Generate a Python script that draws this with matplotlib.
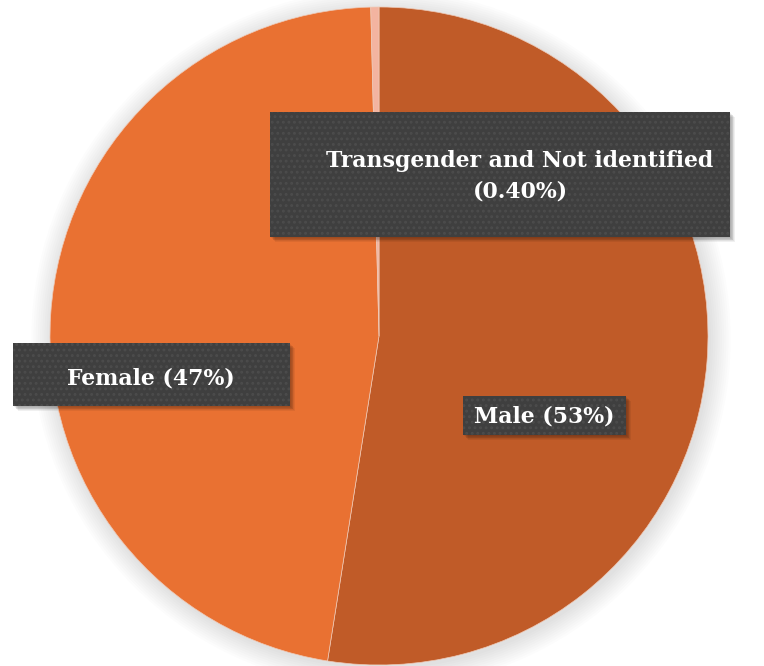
import numpy as np
import matplotlib
matplotlib.use("Agg")
import matplotlib.pyplot as plt
from matplotlib.patches import Rectangle, Circle

# data
labels = ["Male", "Female", "Transgender and Not identified"]
shares = [52.5, 47.1, 0.4]
label_texts = ["Male (53%)", "Female (47%)", "Transgender and Not identified\n(0.40%)"]
colors = ["#C05B28", "#E97132", "#F3B4A0"]

W, H = 764, 666
fig = plt.figure(figsize=(W / 100, H / 100), dpi=100)
ax = fig.add_axes([0, 0, 1, 1])

cx, cy, r = 379, 330, 329

# soft glow behind the pie
for k in range(10):
    ax.add_patch(Circle((cx + 2, cy - 3), r + 1 + k * 2.2, color="#000000",
                        alpha=0.012, lw=0, zorder=0))

ax.pie(shares, colors=colors, startangle=90, counterclock=False,
       center=(cx, cy), radius=r, frame=True,
       wedgeprops=dict(linewidth=0.5, edgecolor="#EFC9B6"))
ax.set_xlim(0, W)
ax.set_ylim(0, H)
ax.set_aspect("equal")
ax.axis("off")

plt.rcParams["hatch.linewidth"] = 1.3
# label boxes: (x0, y0, x1, y1) and text centre
boxes = {
    "Male": ((463, 231, 626, 270), (544, 250)),
    "Female": ((13, 260, 290, 323), (151, 288)),
    "Transgender and Not identified": ((270, 429, 730, 554), (520, 490)),
}
for lab, txt in zip(labels, label_texts):
    (x0, y0, x1, y1), (tx, ty) = boxes[lab]
    for k in range(6):
        ax.add_patch(Rectangle((x0 + 1 + k * 0.8, y0 - 1 - k * 0.8), x1 - x0, y1 - y0,
                               color="black", alpha=0.06, lw=0, zorder=3))
    ax.add_patch(Rectangle((x0, y0), x1 - x0, y1 - y0, facecolor="#3F3F3F",
                           edgecolor="#4C4C4C", hatch="...", lw=0, zorder=4))
    ax.text(tx, ty, txt, ha="center", va="center", color="white",
            fontsize=15.8, fontweight="bold", family="DejaVu Serif",
            linespacing=1.5, zorder=5)

fig.savefig("out.png", dpi=100)
